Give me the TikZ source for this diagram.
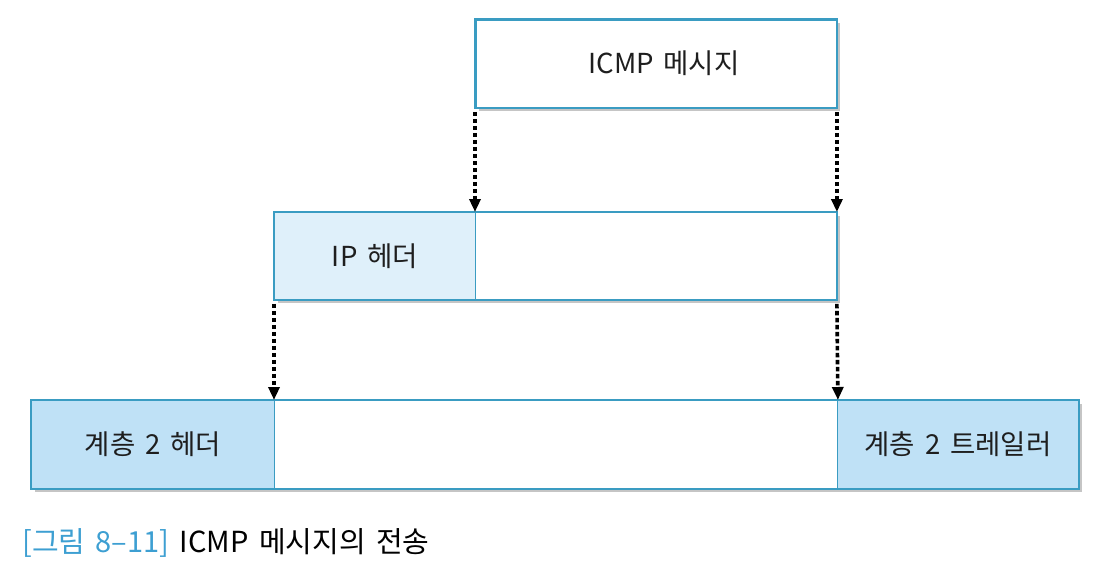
\documentclass[tikz,border=0pt]{standalone}
\usepackage{fontspec}
\setmainfont{Noto Sans CJK KR}[WordSpace={1.6}]
\usetikzlibrary{arrows.meta,shadows}
\definecolor{edge}{HTML}{3A9CC2}
\definecolor{lightfill}{HTML}{DFF0FA}
\definecolor{midfill}{HTML}{BFE1F6}
\definecolor{capblue}{HTML}{3D9FD2}
\definecolor{txt}{HTML}{1E1E1E}
\tikzset{
  frame/.style={draw=edge, line width=2pt, fill=white, anchor=north west, inner sep=0pt,
    drop shadow={shadow xshift=3pt, shadow yshift=-3pt, fill=black!45, opacity=0.5}},
  cell/.style={draw=edge, line width=0.9pt, anchor=north west, inner sep=0pt,
    font=\fontsize{27.5}{30}\selectfont, text=txt},
  border/.style={draw=edge, line width=2.2pt},
  arr/.style={line width=3.6pt, dash pattern=on 4.5pt off 2.5pt, -{Triangle[length=13pt,width=11pt]}},
}
\begin{document}
\begin{tikzpicture}[x=1pt,y=-1pt]
\useasboundingbox[fill=white] (0,0) rectangle (1099,578);
% top
\node[frame, minimum width=361pt, minimum height=88pt] (icmpF) at (475,19) {};
\node[cell, minimum width=361pt, minimum height=88pt] (icmp) at (475,19) {\hspace{16pt}ICMP 메시지};
\draw[border] (icmp.north west) rectangle (icmp.south east);
% middle
\node[frame, minimum width=562pt, minimum height=87pt] (ipF) at (274,212) {};
\node[cell, fill=lightfill, minimum width=201pt, minimum height=87pt] (ipH) at (274,212) {IP 헤더};
\node[cell, fill=white, minimum width=361pt, minimum height=87pt] (ipD) at (475,212) {};
\draw[border] (ipH.north west) rectangle (ipD.south east);
% bottom
\node[frame, minimum width=1047pt, minimum height=88pt] (l2F) at (31,400) {};
\node[cell, fill=midfill, minimum width=243pt, minimum height=88pt] (l2H) at (31,400) {계층 2 헤더};
\node[cell, fill=white, minimum width=563pt, minimum height=88pt] (l2D) at (274,400) {};
\node[cell, fill=midfill, minimum width=241pt, minimum height=88pt] (l2T) at (837,400) {계층 2 트레일러};
\draw[border] (l2H.north west) rectangle (l2T.south east);
% arrows
\draw[arr] ([yshift=-4pt]icmp.south west) -- (ipD.north west);
\draw[arr] ([yshift=-4pt]icmp.south east) -- (ipD.north east);
\draw[arr] ([yshift=-4pt]ipH.south west) -- (l2D.north west);
\draw[arr] ([yshift=-4pt]ipD.south east) -- (l2D.north east);
% caption
\node[anchor=west, inner sep=0pt, font=\fontsize{29}{32}\selectfont, text=black] (cap) at (22,543)
  {{\color{capblue}[그림 8–11]} ICMP 메시지의 전송};
\end{tikzpicture}
\end{document}
